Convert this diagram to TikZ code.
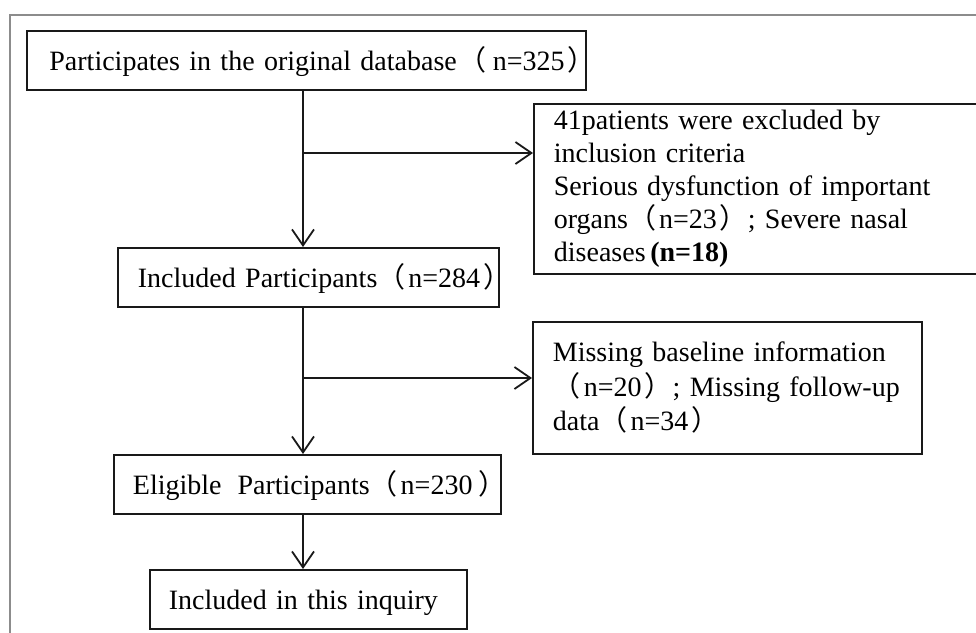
\documentclass[tikz,border=0pt]{standalone}
\usepackage{fontspec}
\setmainfont{Liberation Serif}
\newfontfamily\cjk{Noto Sans CJK SC}
\usetikzlibrary{arrows.meta}
\newcommand{\lp}{{\cjk （}\kern3pt}
\newcommand{\rp}{\kern3pt{\cjk ）}}
\begin{document}
\begin{tikzpicture}[x=1pt,y=-1pt,
  box/.style={draw=black!90, line width=1.8pt, anchor=north west, align=left,
    inner ysep=0pt, font=\fontsize{28pt}{33pt}\selectfont},
  sline/.style={minimum height=59pt, text height=23pt, text depth=2pt},
  arr/.style={line width=1.8pt, draw=black!90, -{Straight Barb[length=16pt,width=22pt]}},
  framec/.style={draw=black!45, line width=2pt}]
\path[use as bounding box] (0,0) rectangle (976,632);
\clip (0,0) rectangle (976,632);
\fill[white] (0,0) rectangle (976,632);
\draw[framec] (10,660) -- (10,15) -- (1000,15);

\node[box, sline, text width=514pt, inner xsep=22.5pt] (b1) at (26,30)
  {\mbox{Participates in the original database\kern2pt\lp\kern3pt n=325\rp}};
\node[box, text width=430pt, inner xsep=20pt, minimum height=170pt] (b2) at (533,103)
  {41patients were excluded by\\
   inclusion criteria\\
   Serious dysfunction of important\\
   \mbox{organs\lp n=23\rp; Severe nasal}\\
   diseases\,\textbf{(n=18)}};
\node[box, sline, text width=341pt, inner xsep=20pt] (b3) at (117,247)
  {\mbox{Included Participants\lp n=284\rp}};
\node[box, text width=349pt, inner xsep=20pt, minimum height=132pt,
  font=\fontsize{28pt}{34.5pt}\selectfont] (b4) at (532,321)
  {\makebox[349pt][s]{Missing baseline information}\\
   \mbox{\lp n=20\rp; Missing follow-up}\\
   \mbox{data\lp n=34\rp}};
\node[box, sline, text width=349pt, inner xsep=19pt] (b5) at (113,454)
  {\mbox{Eligible\hspace{16pt}Participants\lp n=230\hspace{3pt}\rp}};
\node[box, sline, text width=279pt, inner xsep=19pt] (b6) at (149,569)
  {\mbox{Included in this inquiry}};

\coordinate (j1) at (303,153);
\coordinate (j2) at (303,378);
\draw[arr] (b1.south -| j1) -- (b3.north -| j1);
\draw[arr] (j1) -- (j1 -| b2.west);
\draw[arr] (b3.south -| j1) -- (b5.north -| j1);
\draw[arr] (j2) -- (j2 -| b4.west);
\draw[arr] (b5.south -| j1) -- (b6.north -| j1);
\end{tikzpicture}
\end{document}
